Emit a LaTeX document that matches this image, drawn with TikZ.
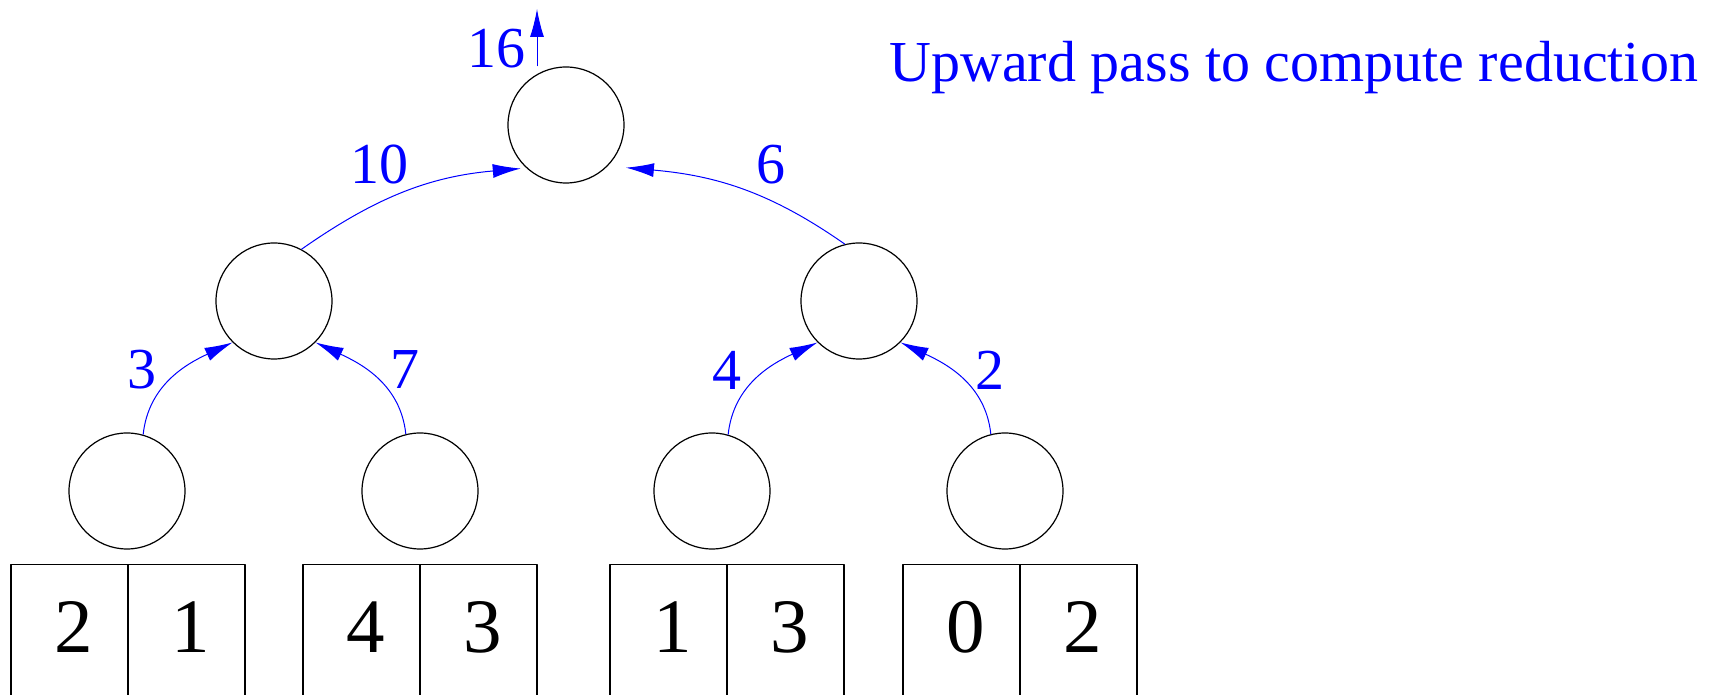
\documentclass[tikz,border=0pt]{standalone}
\usepackage{fontspec}
\setmainfont{Liberation Serif}
\usepackage{tikz}
\usetikzlibrary{arrows.meta,positioning}

\begin{document}
\begin{tikzpicture}[x=0.5pt,y=0.5pt,>={Latex[length=14pt,width=7pt]},line join=bevel,
  tnode/.style={circle,draw,line width=0.6pt,minimum size=58pt,inner sep=0pt},
  cell/.style={draw,line width=0.6pt,inner sep=0pt,anchor=north,minimum width=58.5pt,
    text height=44pt,text depth=26.5pt,font=\fontsize{38.5}{40}\selectfont,
    execute at begin node=\hspace*{4.7pt}},
  sumlbl/.style={text=blue,inner sep=0pt,font=\fontsize{29}{31}\selectfont},
  up/.style={->,draw=blue,line width=0.5pt}]

  \useasboundingbox (0,0) rectangle (1720,695);

  % Node: tree
  \node[tnode] (r) at (566,570) {};
  \node[tnode] (r1) at (274,394) {};
  \node[tnode] (r2) at (859,394) {};
  \node[tnode] (r11) at (127,204) {};
  \node[tnode] (r12) at (420,204) {};
  \node[tnode] (r21) at (712,204) {};
  \node[tnode] (r22) at (1005,204) {};

  % Node: array cells
  \node[cell] (a1) at (69.5,131) {2};
  \node[cell] (a2) at (186.5,131) {1};
  \node[cell] (a3) at (361.5,131) {4};
  \node[cell] (a4) at (478.5,131) {3};
  \node[cell] (a5) at (668.5,131) {1};
  \node[cell] (a6) at (785.5,131) {3};
  \node[cell] (a7) at (961.5,131) {0};
  \node[cell] (a8) at (1078.5,131) {2};

  % Edge: r11 -> r1
  \draw[up] (r11.74) to[out=84,in=205] (r1.225);
  % Edge: r12 -> r1
  \draw[up] (r12.104) to[out=96,in=-25] (r1.-45);
  % Edge: r21 -> r2
  \draw[up] (r21.74) to[out=84,in=205] (r2.225);
  % Edge: r22 -> r2
  \draw[up] (r22.104) to[out=96,in=-25] (r2.-45);
  % Edge: r1 -> r
  \draw[up] (r1.62) to[out=35,in=185] ([xshift=-3pt]r.228);
  % Edge: r2 -> r
  \draw[up] (r2.104) to[out=145,in=-5] ([shift={(15,-5)}]r.-40);
  % Edge: r -> total
  \coordinate (total) at (537,686);
  \draw[up] ([xshift=-14.5pt]r.north) -- (total);

  % Node: partial sums
  \node[sumlbl] (w16) at (496,646) {16};
  \node[sumlbl] (w10) at (379,530) {10};
  \node[sumlbl] (w6) at (771,530) {6};
  \node[sumlbl] (w3) at (142,325) {3};
  \node[sumlbl] (w7) at (405,325) {7};
  \node[sumlbl] (w4) at (727,325) {4};
  \node[sumlbl] (w2) at (990,325) {2};

  % Node: caption
  \node[sumlbl,anchor=base west] (cap) at (889,613) {Upward pass to compute reduction};
\end{tikzpicture}
\end{document}
